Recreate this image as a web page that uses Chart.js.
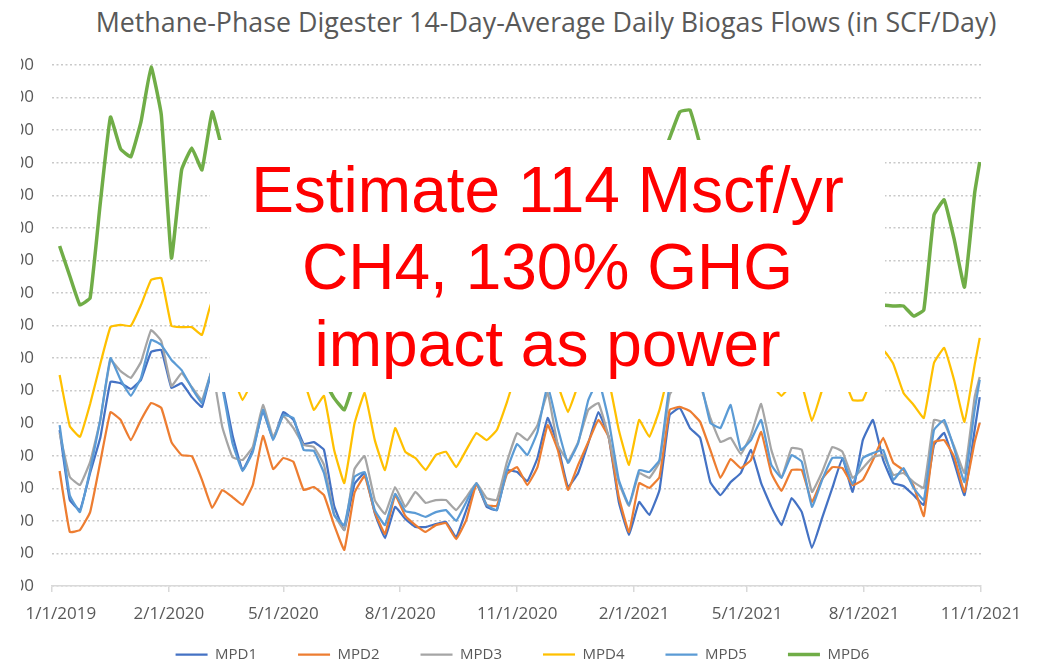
<!DOCTYPE html>
<html>
<head>
<meta charset="utf-8">
<script src="https://cdn.jsdelivr.net/npm/chart.js@4.4.1/dist/chart.umd.min.js"></script>
<style>
  html, body { margin: 0; padding: 0; background: #fff; overflow: hidden; }
  body { width: 1045px; height: 668px; position: relative; }
  #title { position: absolute; left: 0; top: 4px; width: 1092px; text-align: center;
           font: 26.8px 'Open Sans', sans-serif; line-height: 36px; color: #595959; white-space: nowrap; }
  #chart { position: absolute; left: 21px; top: 0; }
  #note { position: absolute; left: 210px; top: 140px; width: 675px; height: 252px; z-index: 2;
          box-sizing: border-box; padding-top: 12px; background: #fff; color: #f00;
          font: 64px 'Liberation Sans', Arial, sans-serif; line-height: 77px; text-align: center; white-space: nowrap; }
</style>
</head>
<body>
<div id="title">Methane-Phase Digester 14-Day-Average Daily Biogas Flows (in SCF/Day)</div>
<canvas id="chart" width="1019" height="692"></canvas>
<div id="note">Estimate 114 Mscf/yr<br>CH4, 130% GHG<br>impact as power</div>
<script>
// days counted from the left end of the axis
const days = [6,14,22,30,38,46,54,62,70,78,86,94,102,110,118,126,134,142,150,158,166,174,182,190,198,206,214,222,230,238,
  246,254,262,270,278,286,294,302,310,318,326,334,342,350,358,366,374,382,390,398,406,414,422,430,438,446,454,462,470,478,
  486,494,502,510,518,526,534,542,550,558,566,574,582,590,598,606,614,622,630,638,646,654,662,670,678,686,694,702,710,718,726,730];
const tickDays = [0, 92, 182, 274, 366, 458, 547, 639, 731];
const tickLabels = ['1/1/2019', '2/1/2020', '5/1/2020', '8/1/2020', '11/1/2020', '2/1/2021', '5/1/2021', '8/1/2021', '11/1/2021'];

const seriesNames = ['MPD1', 'MPD2', 'MPD3', 'MPD4', 'MPD5', 'MPD6'];
const seriesColors = ['#4472C4', '#ED7D31', '#A5A5A5', '#FFC000', '#5B9BD5', '#70AD47'];

// thousand SCF/day
const mpd1 = [67.9,46.4,43.3,54.7,65.5,82.7,82.3,80.5,83.3,91.9, 92.5,80.8,82.3,78.0,75.0,86.3,81.7,66.4,55.6,61.8,
  73.7,65.1,73.4,71.0,63.6,64.2,61.8,44.6,37.2,51.3, 54.7,42.4,34.7,44.3,40.6,38.1,38.1,39.0,39.7,35.0,
  43.3,51.6,44.3,43.3,55.6,55.0,52.2,59.3,71.6,63.3, 50.4,54.7,63.9,73.4,65.8,45.8,35.7,45.8,41.8,49.5,
  72.5,74.7,68.5,65.5,51.9,47.9,51.9,54.7,61.8,51.6, 44.3,38.7,47.0,42.7,31.7,40.9,50.1,59.3,48.9,64.8,
  71.0,58.7,51.6,50.7,47.9,44.9,63.3,67.0,57.8,47.9, 67.9,78.0];
const mpd2 = [55.3,36.6,37.2,42.7,58.1,73.4,71.0,64.8,71.0,76.2, 74.7,64.2,60.2,59.9,52.6,44.0,49.5,47.3,44.9,51.0,
  66.1,55.9,59.3,58.1,49.5,50.4,47.9,38.7,31.1,48.6, 53.8,42.7,36.0,47.9,41.5,38.7,36.6,38.7,39.3,34.4,
  40.3,51.3,44.9,44.6,54.4,56.5,51.0,56.5,69.4,61.8, 49.5,57.2,64.2,71.0,65.8,47.3,36.6,51.6,50.1,53.5,
  74.1,75.0,73.7,70.4,61.8,53.2,59.0,56.2,58.7,67.3, 54.7,49.2,55.6,55.6,45.8,52.9,56.5,56.2,51.0,52.6,
  58.7,65.5,57.8,55.6,50.7,41.5,64.2,64.8,59.6,48.9, 64.2,70.1];
const mpd3 = [67.0,53.5,51.0,58.1,71.0,89.4,86.0,83.9,88.8,98.6, 95.2,81.4,85.4,81.1,77.1,86.3,68.8,59.6,58.7,62.7,
  75.6,65.8,72.2,68.5,63.3,62.7,57.2,42.1,37.2,55.9, 59.9,46.4,42.1,50.4,44.3,48.9,45.5,46.4,46.4,43.3,
  47.3,51.6,47.0,46.4,58.1,67.0,64.8,69.4,79.3,63.3, 58.4,64.2,74.1,76.2,65.8,51.9,44.6,54.7,53.2,58.1,
  78.7,83.3,83.9,81.7,71.6,64.2,65.5,60.5,66.4,75.9, 61.8,53.2,62.4,61.8,48.9,55.0,62.7,61.2,53.2,56.2,
  59.6,60.2,54.1,54.7,51.9,50.1,71.0,70.1,62.7,54.7, 78.0,84.2];
const mpd4 = [84.8,69.1,65.8,75.9,88.2,99.5,100.2,99.9,106.3,114.0, 114.6,99.9,99.5,99.5,97.1,107.8,95.6,84.8,77.1,83.3,
  89.4,91.0,89.4,87.9,83.3,74.1,78.4,61.8,51.6,69.8, 79.3,64.8,55.6,68.5,61.2,59.3,55.6,60.2,61.2,56.5,
  61.8,67.0,64.8,67.9,76.5,86.3,92.5,92.5,87.9,81.7, 73.4,81.7,86.3,87.9,83.3,67.9,57.2,71.0,65.8,74.1,
  86.3,91.0,92.5,91.0,89.4,87.9,86.3,84.8,84.8,83.3, 81.7,78.4,81.7,81.7,70.7,80.2,86.3,84.8,77.1,77.1,
  84.8,92.5,88.2,79.3,75.6,71.6,88.5,93.1,83.0,70.4, 87.9,96.2];
const mpd5 = [69.4,47.9,42.7,55.6,71.0,90.0,83.3,78.4,83.9,95.6, 94.0,89.4,86.3,80.8,76.2,86.3,80.8,63.9,55.3,61.2,
  74.1,64.8,72.5,71.6,61.8,61.5,54.7,41.8,38.7,53.5, 55.0,43.3,38.7,48.3,43.0,42.4,41.2,42.7,43.3,40.0,
  45.8,51.6,44.9,43.3,55.6,63.6,60.2,67.3,81.7,68.5, 57.8,63.9,77.1,83.3,71.0,52.6,44.9,55.6,55.0,58.7,
  81.7,87.9,87.9,83.3,70.1,68.5,75.6,61.8,64.8,71.0, 57.2,53.2,60.2,58.1,44.3,52.6,59.3,59.3,51.3,59.3,
  60.8,61.8,52.6,56.2,50.1,46.4,67.9,71.0,62.1,51.9, 74.1,83.3];
const mpd6 = [124.4,115.2,106.3,108.5,137.6,164.0,154.2,151.8,162.5,179.4, 164.7,120.7,147.8,154.5,147.8,165.6,153.9,141.6,129.3,120.1,
  114.0,110.9,107.8,101.7,95.6,89.4,83.3,77.7,74.1,83.3, 92.5,98.6,101.7,104.8,107.8,107.8,110.9,110.9,114.0,115.5,
  117.1,120.1,123.2,126.3,132.4,135.5,135.5,133.9,132.4,129.3, 127.8,129.3,132.4,135.5,138.6,138.6,137.0,135.5,141.6,149.3,
  157.6,165.6,166.2,155.4,144.7,138.6,132.4,126.3,123.2,120.1, 118.6,117.1,114.0,110.9,109.4,107.8,107.8,106.3,107.8,106.3,
  106.3,106.3,106.0,106.0,102.9,104.8,133.9,138.6,126.3,111.8, 140.7,150.2];

const seriesData = [mpd1, mpd2, mpd3, mpd4, mpd5, mpd6];

const datasets = seriesNames.map((name, i) => ({
  label: name,
  data: days.map((d, j) => ({ x: d, y: seriesData[i][j] })),
  borderColor: seriesColors[i],
  backgroundColor: seriesColors[i],
  borderWidth: i === 5 ? 3.5 : 2.25,
  pointRadius: 0,
  tension: 0.1,
  order: 6 - i // MPD6 on top, like the spreadsheet
}));

// legend sits closer to the axis labels than its own padding allows
const legendNudge = {
  id: 'legendNudge',
  afterLayout(chart) {
    const lg = chart.legend;
    lg.top -= 20; lg.bottom -= 20;
    lg.left -= 8; lg.right -= 8;
  }
};

Chart.defaults.font.family = "'Open Sans', sans-serif";

new Chart(document.getElementById('chart'), {
  type: 'line',
  data: { datasets: datasets },
  plugins: [legendNudge],
  options: {
    responsive: false,
    animation: false,
    devicePixelRatio: 1,
    layout: { padding: { top: 65, left: 0, right: 0, bottom: 0 } },
    plugins: {
      legend: {
        position: 'bottom',
        labels: {
          usePointStyle: true, pointStyle: 'line', pointStyleWidth: 32, padding: 41,
          color: '#595959', font: { size: 15 },
          sort: (a, b) => a.datasetIndex - b.datasetIndex
        }
      },
      tooltip: { enabled: false }
    },
    scales: {
      x: {
        type: 'linear', min: 0, max: 731,
        afterBuildTicks: s => { s.ticks = tickDays.map(v => ({ value: v })); },
        afterFit: s => { s.paddingLeft = 0; s.paddingRight = 59; s.height = 40; },
        grid: { drawOnChartArea: false, drawTicks: true, tickLength: 6, color: '#d9d9d9', lineWidth: 1.5 },
        border: { color: '#d9d9d9', width: 1.5 },
        ticks: {
          autoSkip: false, maxRotation: 0, padding: 12, color: '#595959', font: { size: 17 },
          callback: (v, i) => (i === 0 ? '    ' : '') + tickLabels[i] // first label sits inside the edge
        }
      },
      y: {
        min: 20, max: 180,
        afterFit: s => { s.width = 31; },
        grid: { color: '#c9c9c9', lineWidth: 1.5, drawTicks: false },
        border: { display: false, dash: [2, 2.5] },
        ticks: {
          stepSize: 10, padding: 18, color: '#595959', font: { size: 17 },
          callback: v => (v * 1000).toLocaleString('en-US')
        }
      }
    }
  }
});
</script>
</body>
</html>
